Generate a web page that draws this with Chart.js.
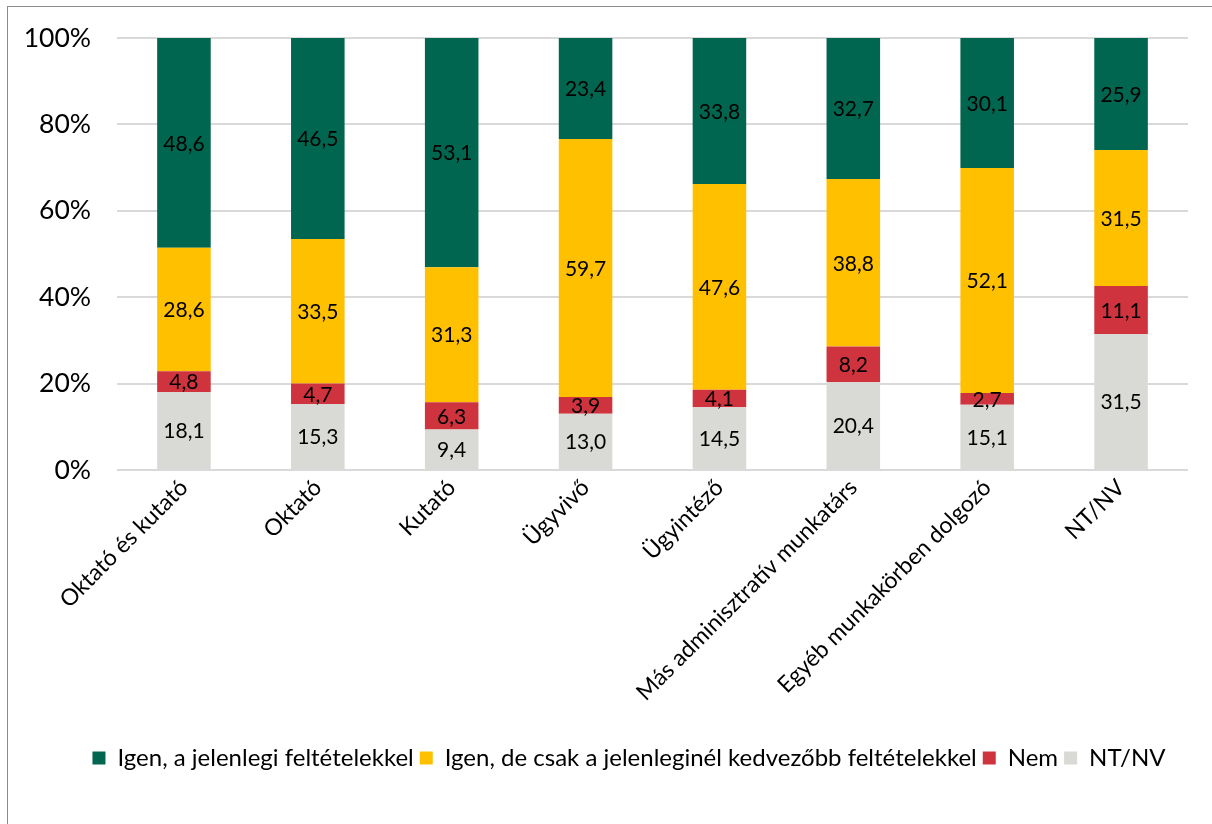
<!DOCTYPE html>
<html>
<head>
<meta charset="utf-8">
<script src="https://cdn.jsdelivr.net/npm/chart.js@4.4.0/dist/chart.umd.min.js"></script>
<style>
    html, body { margin: 0; padding: 0; background: #fff; }
    #wrap { position: relative; width: 1212px; height: 824px; overflow: hidden; }
    #frame { position: absolute; left: 7px; top: 6px; width: 1300px; height: 900px;
             border-top: 1px solid #8c8c8c; border-left: 1px solid #8c8c8c; }
    #chart { position: absolute; left: 0; top: 0; }
</style>
</head>
<body>
<div id="wrap">
    <div id="frame"></div>
    <canvas id="chart" width="1212" height="824"></canvas>
</div>
<script>
// Categories (job roles)
const categories = [
    'Oktató és kutató',
    'Oktató',
    'Kutató',
    'Ügyvivő',
    'Ügyintéző',
    'Más adminisztratív munkatárs',
    'Egyéb munkakörben dolgozó',
    'NT/NV'
];

// Series values (percent), bottom to top of the stack
const ntnv       = [18.1, 15.3, 9.4, 13.0, 14.5, 20.4, 15.1, 31.5];
const nem        = [4.8, 4.7, 6.3, 3.9, 4.1, 8.2, 2.7, 11.1];
const igenDeCsak = [28.6, 33.5, 31.3, 59.7, 47.6, 38.8, 52.1, 31.5];
const igenJelen  = [48.6, 46.5, 53.1, 23.4, 33.8, 32.7, 30.1, 25.9];

const yTicks = ['0%', '20%', '40%', '60%', '80%', '100%'];

const FONT = 'Lato, "Open Sans", sans-serif';

// 100% stacked: normalise each column to its total
const totals = categories.map((c, i) => ntnv[i] + nem[i] + igenDeCsak[i] + igenJelen[i]);
function share(arr) {
    return arr.map((v, i) => v / totals[i] * 100);
}

const series = [
    { label: 'NT/NV', raw: ntnv, color: '#d9d9d5' },
    { label: 'Nem', raw: nem, color: '#cf343e' },
    { label: 'Igen, de csak a jelenleginél kedvezőbb feltételekkel', raw: igenDeCsak, color: '#ffc000' },
    { label: 'Igen, a jelenlegi feltételekkel', raw: igenJelen, color: '#00664f' }
];

// Value labels in the middle of each segment
const segmentLabels = {
    id: 'segmentLabels',
    afterDatasetsDraw(chart) {
        const ctx = chart.ctx;
        ctx.save();
        ctx.font = '21px ' + FONT;
        ctx.fillStyle = '#000';
        ctx.textAlign = 'center';
        ctx.textBaseline = 'middle';
        chart.data.datasets.forEach((ds, di) => {
            const meta = chart.getDatasetMeta(di);
            meta.data.forEach((bar, i) => {
                const txt = ds.raw[i].toFixed(1).replace('.', ',');
                ctx.fillText(txt, bar.x, (bar.y + bar.base) / 2 + 1);
            });
        });
        ctx.restore();
    }
};

// Excel places the legend a little right of the canvas centre
const legendShift = {
    id: 'legendShift',
    afterLayout(chart) {
        chart.legend.left += 35;
        chart.legend.right += 35;
    }
};

new Chart(document.getElementById('chart').getContext('2d'), {
    type: 'bar',
    data: {
        labels: categories,
        datasets: series.map(s => ({
            label: s.label,
            data: share(s.raw),
            raw: s.raw,
            backgroundColor: s.color,
            borderWidth: 0,
            barPercentage: 0.4,
            categoryPercentage: 1
        }))
    },
    options: {
        responsive: false,
        animation: false,
        layout: { padding: { top: 38, right: 24, bottom: 44, left: 0 } },
        plugins: {
            legend: {
                position: 'bottom',
                reverse: true,
                labels: {
                    font: { family: FONT, size: 24 },
                    color: '#000',
                    boxWidth: 13,
                    boxHeight: 13,
                    padding: 6
                }
            },
            tooltip: { enabled: false }
        },
        scales: {
            x: {
                stacked: true,
                grid: { display: false },
                border: { display: false },
                ticks: {
                    font: { family: FONT, size: 23 },
                    color: '#000',
                    maxRotation: 45,
                    minRotation: 45,
                    padding: -4
                },
                afterFit(scale) { scale.height = 270; }
            },
            y: {
                stacked: true,
                min: 0,
                max: 100,
                grid: { color: '#d9d9d9', lineWidth: 2, drawTicks: false },
                border: { display: false },
                ticks: {
                    stepSize: 20,
                    font: { family: FONT, size: 26.5 },
                    color: '#000',
                    padding: 26,
                    callback: (v) => yTicks[v / 20]
                },
                afterFit(scale) {
                    scale.width = 117;
                    scale.paddingTop = 0;
                    scale.paddingBottom = 0;
                }
            }
        }
    },
    plugins: [segmentLabels, legendShift]
});
</script>
</body>
</html>
